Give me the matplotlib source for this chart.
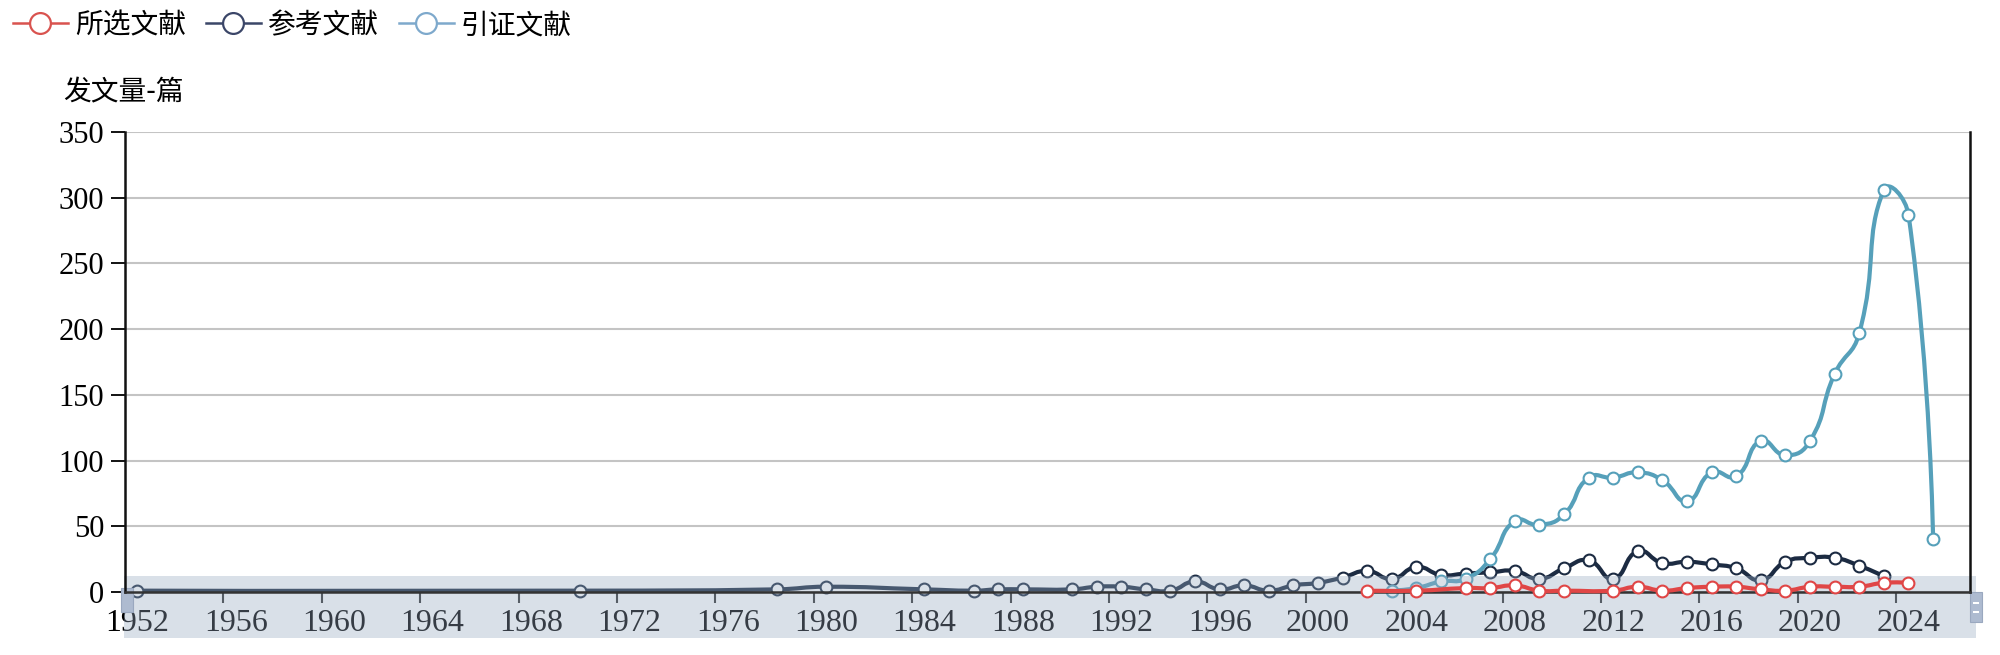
import numpy as np
import matplotlib
matplotlib.use("Agg")
import matplotlib.pyplot as plt
from matplotlib.path import Path
from matplotlib.patches import PathPatch, Rectangle
from matplotlib.lines import Line2D

plt.rcParams['font.family'] = ['Noto Sans CJK SC', 'DejaVu Sans']

# 所选文献
sel_years = [2002, 2004, 2006, 2007, 2008, 2009, 2010, 2012, 2013, 2014, 2015,
             2016, 2017, 2018, 2019, 2020, 2021, 2022, 2023, 2024]
sel_vals = [1, 1, 3, 3, 5, 1, 1, 1, 4, 1, 3, 4, 4, 2, 1, 4, 4, 4, 7, 7]

# 参考文献
ref_years = [1952, 1970, 1978, 1980, 1984, 1986, 1987, 1988, 1990, 1991, 1992,
             1993, 1994, 1995, 1996, 1997, 1998, 1999, 2000, 2001, 2002, 2003,
             2004, 2005, 2006, 2007, 2008, 2009, 2010, 2011, 2012, 2013, 2014,
             2015, 2016, 2017, 2018, 2019, 2020, 2021, 2022, 2023]
ref_vals = [1, 1, 2, 4, 2, 1, 2, 2, 2, 4, 4,
            2, 1, 8, 2, 5, 1, 5, 7, 11, 16, 10,
            19, 13, 14, 15, 16, 10, 18, 24, 10, 31, 22,
            23, 21, 18, 9, 23, 26, 26, 20, 12]

# 引证文献
cit_years = [2003, 2004, 2005, 2006, 2007, 2008, 2009, 2010, 2011, 2012, 2013,
             2014, 2015, 2016, 2017, 2018, 2019, 2020, 2021, 2022, 2023, 2024, 2025]
cit_vals = [1, 3, 8, 10, 25, 54, 51, 59, 87, 87, 91,
            85, 69, 91, 88, 115, 104, 115, 166, 197, 306, 287, 40]

# name, years, values, line colour, legend colour, z-order
series = [
    ("所选文献", sel_years, sel_vals, "#e04646", "#d9534f", 2.6),
    ("参考文献", ref_years, ref_vals, "#1c2b42", "#3b4668", 2.0),
    ("引证文献", cit_years, cit_vals, "#56a0ba", "#7ea9cc", 2.1),
]

x_labels = list(range(1952, 2025, 4))


def smooth_path(xs, ys, sx=24.6, sy=1.314, smooth=0.5):
    # echarts-like bezier smoothing, distances measured in pixel-ish space
    p = np.column_stack([np.asarray(xs, float) * sx, np.asarray(ys, float) * sy])
    n = len(p)
    cin = p.copy()
    cout = p.copy()
    for i in range(1, n - 1):
        v = p[i + 1] - p[i - 1]
        d0 = np.hypot(*(p[i] - p[i - 1]))
        d1 = np.hypot(*(p[i + 1] - p[i]))
        s = d0 + d1
        if s > 0:
            cin[i] = p[i] - v * smooth * d0 / s
            cout[i] = p[i] + v * smooth * d1 / s
    verts = [p[0]]
    codes = [Path.MOVETO]
    for i in range(n - 1):
        verts += [cout[i], cin[i + 1], p[i + 1]]
        codes += [Path.CURVE4] * 3
    verts = np.array(verts) / [sx, sy]
    return Path(verts, codes)


fig = plt.figure(figsize=(20, 6.55), dpi=100)
ax = fig.add_axes([0.0625, 0.0962, 0.9225, 0.7023])

for name, yrs, vals, col, lcol, z in series:
    ax.add_patch(PathPatch(smooth_path(yrs, vals), facecolor="none",
                           edgecolor=col, lw=3.0, zorder=z, capstyle="round",
                           joinstyle="round", clip_on=False))
    ax.plot(yrs, vals, ls="none", marker="o", ms=8.5, mfc="white",
            mec=col, mew=1.5, zorder=z + 0.05, clip_on=False)

ax.set_xlim(1951.5, 2026.5)
ax.set_ylim(0, 350)
ax.set_yticks(range(0, 351, 50))
ax.grid(axis="y", color="#c4c4c4", lw=1.5)
ax.set_axisbelow(True)

ax.set_xticks(np.arange(1951.5, 2024, 4))
ax.set_xticklabels([])
ax.set_xticks(x_labels, minor=True)
ax.set_xticklabels([str(y) for y in x_labels], minor=True,
                   family="Liberation Serif", fontsize=23, color="black")
ax.tick_params(axis="x", which="major", length=8, width=1.5, color="#333333")
ax.tick_params(axis="x", which="minor", length=0, pad=12)
ax.tick_params(axis="y", length=10, width=1.3, pad=5, labelsize=22,
               labelcolor="black")
for lbl in ax.get_yticklabels():
    lbl.set_family("Liberation Serif")

ax.spines["top"].set_visible(False)
for sp in ("left", "right"):
    ax.spines[sp].set_color("#111111")
    ax.spines[sp].set_linewidth(1.8)
ax.spines["bottom"].set_color("#333333")
ax.spines["bottom"].set_linewidth(1.8)

# data zoom slider band
W, H = 2000, 655
def fr(x, y, w, h):
    return (x / W, 1 - (y + h) / H), w / W, h / H

(bx, by), bw, bh = fr(124, 576, 1852, 62)
ax.add_patch(Rectangle((bx, by), bw, bh, transform=fig.transFigure,
                       facecolor="#96a9c0", alpha=0.36, edgecolor="none",
                       zorder=2.3, clip_on=False))
(hx, hy), hw, hh = fr(121, 588, 12, 24)
ax.add_patch(Rectangle((hx, hy), hw, hh, transform=fig.transFigure,
                       facecolor="#aebbd0", edgecolor="#9aa8bf", lw=0.8,
                       zorder=2.35, clip_on=False))
(hx, hy), hw, hh = fr(1970, 592, 12, 30)
ax.add_patch(Rectangle((hx, hy), hw, hh, transform=fig.transFigure,
                       facecolor="#aebbd0", edgecolor="#9aa8bf", lw=0.8,
                       zorder=2.35, clip_on=False))
for yy in (602, 611):
    (lx, ly), lw_, lh = fr(1973, yy, 6, 2)
    ax.add_patch(Rectangle((lx, ly), lw_, lh, transform=fig.transFigure,
                           facecolor="white", edgecolor="none", zorder=2.4,
                           clip_on=False))

# legend
handles = [Line2D([], [], color=s[4], lw=1.8, marker="o", ms=15, mfc="white",
                  mec=s[4], mew=1.6) for s in series]
fig.legend(handles, [s[0] for s in series], loc="upper left",
           bbox_to_anchor=(-0.002, 1.01), ncol=3, frameon=False, fontsize=20,
           handlelength=2.0, handletextpad=0.25, columnspacing=0.7,
           borderaxespad=0.2)

fig.text(63 / W, 1 - 92 / H, "发文量-篇", fontsize=20, va="center", ha="left")

fig.savefig("out.png", dpi=100)
